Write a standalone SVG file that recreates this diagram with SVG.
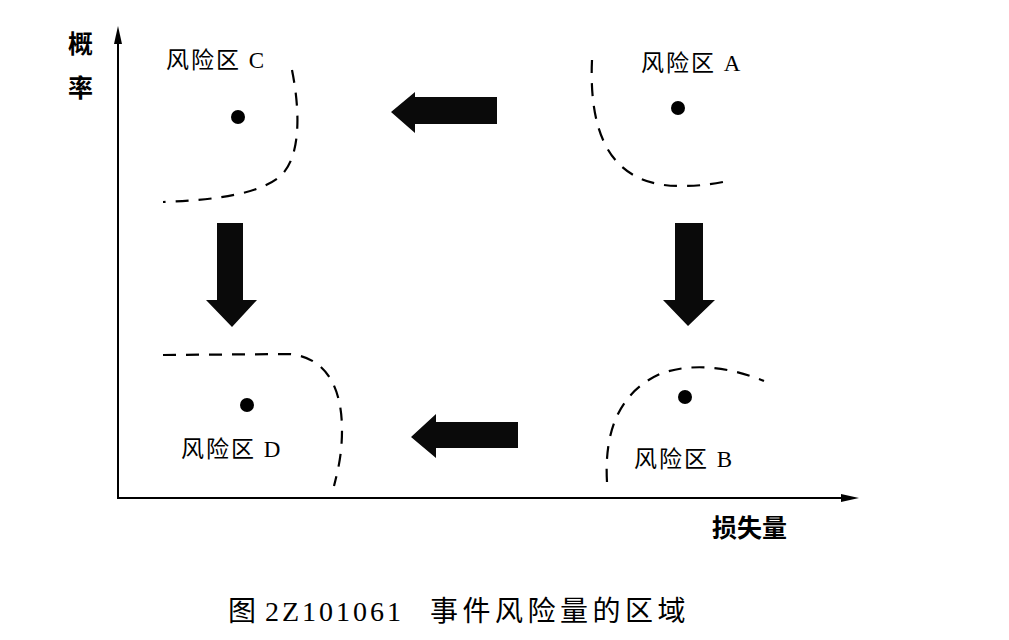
<svg xmlns="http://www.w3.org/2000/svg" width="1009" height="640" viewBox="0 0 1009 640">
<defs>
<style>
.lbl{font-family:"Liberation Serif","Noto Sans CJK SC",serif;font-size:23px;letter-spacing:2px;fill:#000}
.ax{font-family:"Noto Sans CJK SC",sans-serif;font-size:25px;font-weight:bold;fill:#000}
.cap{font-family:"Liberation Serif","Noto Sans CJK SC",serif;font-size:28px;fill:#000}
.dash{fill:none;stroke:#000;stroke-width:2.2;stroke-dasharray:13 10}
.dot{fill:#000}
.arr{fill:#0a0a0a}
.axis{stroke:#000;stroke-width:2;fill:none}
</style>
</defs>
<rect width="1009" height="640" fill="#fff"/>
<g id="axes">
<line class="axis" x1="118" y1="40" x2="118" y2="499"/>
<polygon points="118,26 114,44 122,44" fill="#000"/>
<line class="axis" x1="117" y1="498" x2="845" y2="498"/>
<polygon points="859,498 841,494 841,502" fill="#000"/>
<text class="ax" x="68" y="53">概</text>
<text class="ax" x="68" y="97">率</text>
<text class="ax" x="712" y="537">损失量</text>
</g>
<g id="zoneC">
<path class="dash" d="M292,70 C300,110 302,160 278,178 C258,193 220,200 163,202"/>
<circle class="dot" cx="238" cy="117" r="7"/>
<text class="lbl" x="166" y="68">风险区 C</text>
</g>
<g id="zoneA">
<path class="dash" d="M592,60 C588,150 622,186 680,186 C705,186 718,183 728,181"/>
<circle class="dot" cx="678" cy="108" r="7"/>
<text class="lbl" x="641" y="71">风险区 A</text>
</g>
<g id="zoneD">
<path class="dash" d="M163,355 L290,354 C328,358 342,390 342,430 C342,455 338,470 334,486"/>
<circle class="dot" cx="247" cy="405" r="7"/>
<text class="lbl" x="181" y="457">风险区 D</text>
</g>
<g id="zoneB">
<path class="dash" d="M607,482 C604,430 620,392 660,374 C692,362 730,367 764,381"/>
<circle class="dot" cx="685" cy="397" r="7"/>
<text class="lbl" x="634" y="467">风险区 B</text>
</g>
<g id="connectors">
<polygon class="arr" points="391,112 415,92 415,97 497,97 497,124 415,124 415,133"/>
<polygon class="arr" points="217,223 243,223 243,300 257,300 232,327 206,300 217,300"/>
<polygon class="arr" points="411,437 436,414 436,422 518,422 518,448 436,448 436,458"/>
<polygon class="arr" points="675,223 703,223 703,300 715,300 688,326 663,300 675,300"/>
</g>
<g id="caption">
<text class="cap" x="228" y="621">图</text>
<text class="cap" x="265" y="621" letter-spacing="3">2Z101061</text>
<text class="cap" x="430" y="621" letter-spacing="4.5">事件风险量的区域</text>
</g>
</svg>
